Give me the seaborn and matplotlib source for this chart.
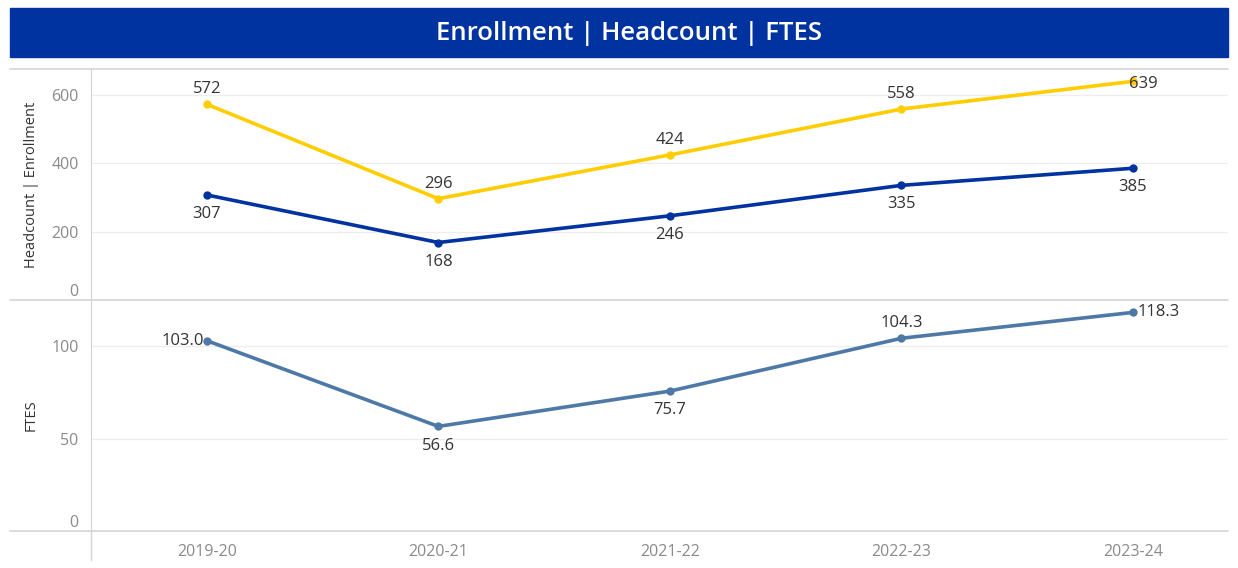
import matplotlib
matplotlib.use("Agg")
import matplotlib.pyplot as plt
import seaborn as sns
import pandas as pd
from matplotlib.lines import Line2D
from matplotlib.patches import Rectangle

# -------------------------------------------------------------------
# Data
# -------------------------------------------------------------------
years = ["2019-20", "2020-21", "2021-22", "2022-23", "2023-24"]
enrollment = [572, 296, 424, 558, 639]
headcount = [307, 168, 246, 335, 385]
ftes = [103.0, 56.6, 75.7, 104.3, 118.3]

YELLOW = "#FFCD00"
NAVY = "#0033A0"
STEEL = "#4E79A7"
GRID = "#EDEDED"
SEP = "#D4D4D4"
TICK = "#8A8A8A"
TXT = "#333333"

sns.set_style("white")
plt.rcParams["font.family"] = ["Open Sans", "DejaVu Sans"]

W, H = 1238, 568
fig = plt.figure(figsize=(W / 100, H / 100), dpi=100)


def box(l, t, r, b):
    return [l / W, 1 - b / H, (r - l) / W, (b - t) / H]


# title banner
fig.patches.append(Rectangle((10 / W, 1 - 57 / H), 1218 / W, 49 / H,
                             transform=fig.transFigure, color=NAVY, zorder=0))
fig.text(629 / W, 1 - 34 / H, "Enrollment | Headcount | FTES", color="white",
         fontsize=18.5, fontweight="semibold", ha="center", va="center")

ax1 = fig.add_axes(box(91, 69, 1228, 300))
ax2 = fig.add_axes(box(91, 300, 1228, 531))

top = pd.DataFrame({
    "Year": years * 2,
    "Value": enrollment + headcount,
    "Measure": ["Enrollment"] * len(years) + ["Headcount"] * len(years),
})
sns.lineplot(data=top, x="Year", y="Value", hue="Measure",
             palette={"Enrollment": YELLOW, "Headcount": NAVY},
             marker="o", markersize=6, markeredgewidth=0, linewidth=2.6,
             legend=False, ax=ax1)

bot = pd.DataFrame({"Year": years, "FTES": ftes})
sns.lineplot(data=bot, x="Year", y="FTES", color=STEEL, marker="o",
             markersize=6, markeredgewidth=0, linewidth=2.6, ax=ax2)

# -------------------------------------------------------------------
# Data labels
# -------------------------------------------------------------------
LBL = 12
for i, v in enumerate(enrollment):
    off, ha, va = (0, 5), "center", "bottom"
    if i == len(years) - 1:
        off, ha, va = (-3, -2), "left", "center"
    ax1.annotate(f"{v}", (i, v), xytext=off, textcoords="offset points",
                 ha=ha, va=va, fontsize=LBL, color=TXT)
for i, v in enumerate(headcount):
    ax1.annotate(f"{v}", (i, v), xytext=(0, -8), textcoords="offset points",
                 ha="center", va="top", fontsize=LBL, color=TXT)

ftes_pos = [((-2, 0), "right", "center"), ((0, -8), "center", "top"),
            ((0, -8), "center", "top"), ((0, 5), "center", "bottom"),
            ((3, 0), "left", "center")]
for i, v in enumerate(ftes):
    off, ha, va = ftes_pos[i]
    ax2.annotate(f"{v:.1f}", (i, v), xytext=off, textcoords="offset points",
                 ha=ha, va=va, fontsize=LBL, color=TXT)

# -------------------------------------------------------------------
# Axes styling
# -------------------------------------------------------------------
for ax, lim, ticks, label in [(ax1, (0, 675), [0, 200, 400, 600], "Headcount | Enrollment"),
                              (ax2, (0, 125), [0, 50, 100], "FTES")]:
    ax.set_xlim(-0.5, 4.41)
    ax.set_ylim(*lim)
    ax.set_yticks(ticks)
    ax.set_yticklabels([str(t) for t in ticks])
    ax.yaxis.grid(True, color=GRID, linewidth=0.9)
    ax.set_axisbelow(True)
    ax.tick_params(axis="y", length=0, pad=9, labelsize=11.5, labelcolor=TICK)
    for s in ["top", "right", "bottom"]:
        ax.spines[s].set_visible(False)
    ax.spines["left"].set_color(SEP)
    ax.set_ylabel(label, fontsize=10.5, color=TXT, labelpad=0)
    ax.yaxis.set_label_coords(-52 / 1137, 0.5)
    ax.get_yticklabels()[0].set_va("bottom")
    ax.set_xlabel("")

ax1.set_xticks([])
ax2.set_xticks(range(len(years)))
ax2.set_xticklabels(years)
ax2.tick_params(axis="x", length=0, pad=9, labelsize=11.5, labelcolor=TICK)
ax2.set_xticks([0.5, 1.5, 2.5, 3.5], minor=True)
ax2.tick_params(axis="x", which="minor", length=8, color="#E6E6E6", width=0.8)

# panel separators and axis extension
for y in (69, 300, 531):
    fig.add_artist(Line2D([10 / W, 1228 / W], [1 - y / H, 1 - y / H],
                          transform=fig.transFigure, color=SEP, linewidth=1.2))
fig.add_artist(Line2D([91 / W, 91 / W], [1 - 531 / H, 1 - 560 / H],
                      transform=fig.transFigure, color=SEP, linewidth=1.0))

fig.savefig("out.png", dpi=100, facecolor="white")
